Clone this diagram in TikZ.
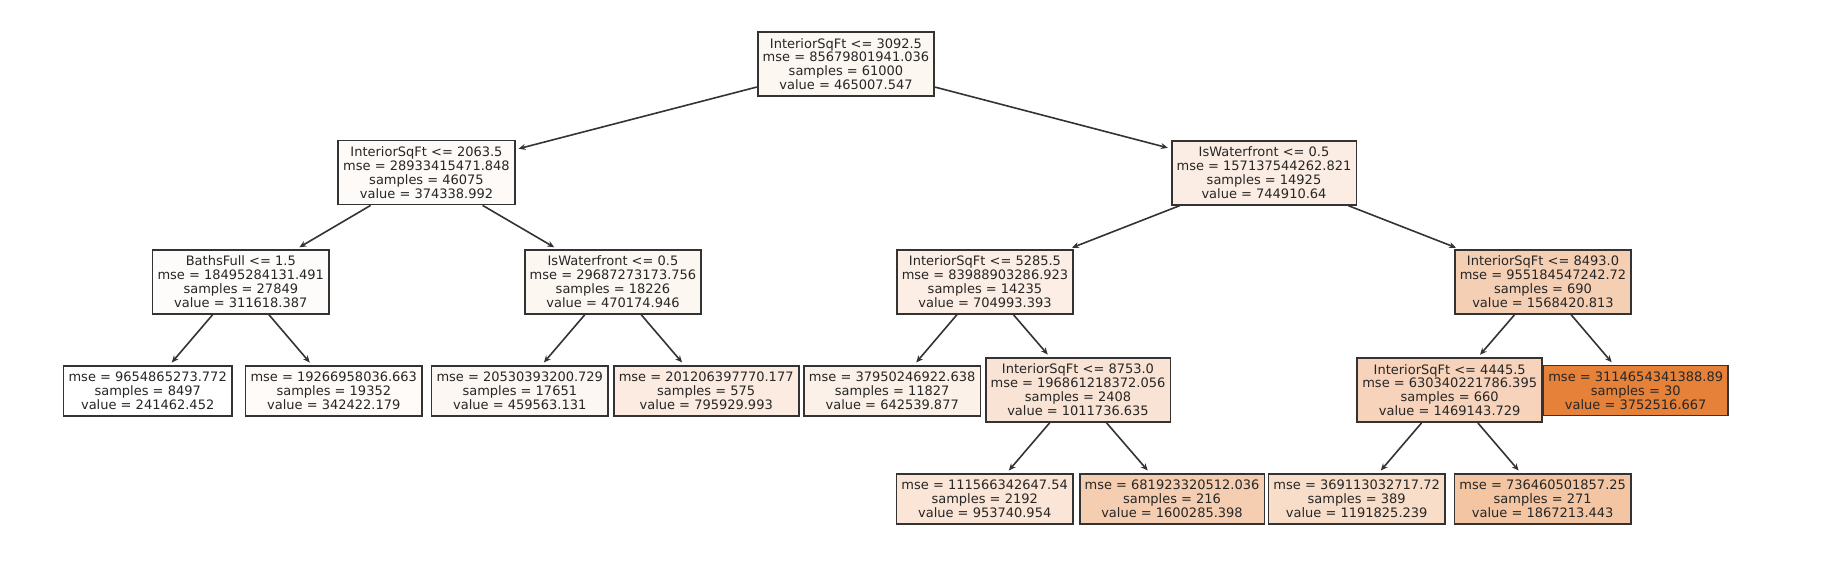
\documentclass[tikz,border=0pt]{standalone}
\usepackage{fontspec}
\setmainfont{DejaVu Sans}
\usepackage{xcolor}
\usepackage{tikz}
\usetikzlibrary{arrows.meta}
\definecolor{treeorange}{RGB}{229,129,57}
\definecolor{treeline}{RGB}{51,51,51}

\begin{document}
\begin{tikzpicture}[x=1pt,y=-1pt,>={Stealth[length=7pt,width=6pt]},
  box/.style={rectangle,draw=treeline,line width=1.8pt,inner xsep=5pt,inner ysep=0pt,align=center,text=black!85,font=\fontsize{13}{13.8}\selectfont},
  split/.style={box,minimum height=64pt},
  leaf/.style={box,minimum height=50pt},
  edge/.style={->,treeline,line width=1.6pt,shorten >=3pt}]
  \useasboundingbox (0,0) rectangle (1842,568);
  \node[split,fill=treeorange!6.4!white] (n0) at (846,64) {InteriorSqFt <= 3092.5\\mse = 85679801941.036\\samples = 61000\\value = 465007.547};
  \node[split,fill=treeorange!3.8!white] (n1) at (426.5,172.5) {InteriorSqFt <= 2063.5\\mse = 28933415471.848\\samples = 46075\\value = 374338.992};
  \node[split,fill=treeorange!2!white] (n2) at (240.8,281.7) {BathsFull <= 1.5\\mse = 18495284131.491\\samples = 27849\\value = 311618.387};
  \node[leaf,fill=white] (n3) at (147.7,390.7) {mse = 9654865273.772\\samples = 8497\\value = 241462.452};
  \node[leaf,fill=treeorange!2.9!white] (n4) at (333.8,390.7) {mse = 19266958036.663\\samples = 19352\\value = 342422.179};
  \node[split,fill=treeorange!6.5!white] (n5) at (613,281.7) {IsWaterfront <= 0.5\\mse = 29687273173.756\\samples = 18226\\value = 470174.946};
  \node[leaf,fill=treeorange!6.2!white] (n6) at (519.8,390.7) {mse = 20530393200.729\\samples = 17651\\value = 459563.131};
  \node[leaf,fill=treeorange!15.8!white] (n7) at (706.2,390.7) {mse = 201206397770.177\\samples = 575\\value = 795929.993};
  \node[split,fill=treeorange!14.3!white] (n8) at (1264,172.7) {IsWaterfront <= 0.5\\mse = 157137544262.821\\samples = 14925\\value = 744910.64};
  \node[split,fill=treeorange!13.2!white] (n9) at (985,281.7) {InteriorSqFt <= 5285.5\\mse = 83988903286.923\\samples = 14235\\value = 704993.393};
  \node[leaf,fill=treeorange!11.4!white] (n10) at (892.2,390.7) {mse = 37950246922.638\\samples = 11827\\value = 642539.877};
  \node[split,fill=treeorange!21.9!white] (n11) at (1078,389.7) {InteriorSqFt <= 8753.0\\mse = 196861218372.056\\samples = 2408\\value = 1011736.635};
  \node[leaf,fill=treeorange!20.3!white] (n12) at (984.7,498.7) {mse = 111566342647.54\\samples = 2192\\value = 953740.954};
  \node[leaf,fill=treeorange!38.7!white] (n13) at (1172,498.7) {mse = 681923320512.036\\samples = 216\\value = 1600285.398};
  \node[split,fill=treeorange!37.8!white] (n14) at (1543,281.7) {InteriorSqFt <= 8493.0\\mse = 955184547242.72\\samples = 690\\value = 1568420.813};
  \node[split,fill=treeorange!35!white] (n15) at (1449.7,390) {InteriorSqFt <= 4445.5\\mse = 630340221786.395\\samples = 660\\value = 1469143.729};
  \node[leaf,fill=treeorange!27.1!white] (n16) at (1356.7,498.7) {mse = 369113032717.72\\samples = 389\\value = 1191825.239};
  \node[leaf,fill=treeorange!46.3!white] (n17) at (1542.7,498.7) {mse = 736460501857.25\\samples = 271\\value = 1867213.443};
  \node[leaf,fill=treeorange] (n18) at (1635.7,390.5) {mse = 3114654341388.89\\samples = 30\\value = 3752516.667};
  \draw[edge] (n0) -- (n1);
  \draw[edge] (n0) -- (n8);
  \draw[edge] (n1) -- (n2);
  \draw[edge] (n1) -- (n5);
  \draw[edge] (n2) -- (n3);
  \draw[edge] (n2) -- (n4);
  \draw[edge] (n5) -- (n6);
  \draw[edge] (n5) -- (n7);
  \draw[edge] (n8) -- (n9);
  \draw[edge] (n8) -- (n14);
  \draw[edge] (n9) -- (n10);
  \draw[edge] (n9) -- (n11);
  \draw[edge] (n11) -- (n12);
  \draw[edge] (n11) -- (n13);
  \draw[edge] (n14) -- (n15);
  \draw[edge] (n14) -- (n18);
  \draw[edge] (n15) -- (n16);
  \draw[edge] (n15) -- (n17);
\end{tikzpicture}
\end{document}
